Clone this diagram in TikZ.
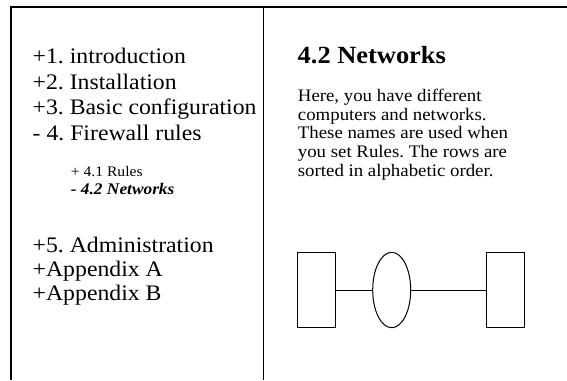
\documentclass[tikz,border=0pt]{standalone}
\usepackage{fontspec}
\setmainfont{Liberation Serif}[FakeStretch=1.07]
\usetikzlibrary{shapes.geometric}

\tikzset{
  frame/.style={line width=1.2pt, draw=black},
  txt/.style={anchor=base west, inner sep=0pt},
  toc/.style={txt, font=\fontsize{22.2}{25}\selectfont},
  subtoc/.style={txt, font=\fontsize{14.6}{17}\selectfont},
  subtoccur/.style={txt, font=\fontsize{16.2}{17}\selectfont\bfseries\itshape},
  heading/.style={txt, font=\fontsize{24.7}{28}\selectfont\bfseries},
  bodyline/.style={txt, font=\fontsize{17.6}{19}\selectfont},
  hostbox/.style={draw, line width=1pt, rectangle, minimum width=38pt, minimum height=75.4pt, inner sep=0pt},
  netblob/.style={draw, line width=1pt, ellipse, minimum width=38pt, minimum height=75.4pt, inner sep=0pt},
  link/.style={line width=1pt},
}

\begin{document}
\frenchspacing
\begin{tikzpicture}[x=1pt, y=-1pt]
  \useasboundingbox (0,0) rectangle (567,380);

  % page frame and column divider
  \draw[frame] (11,380) -- (11,7) -- (567,7);
  \draw[frame] (263.5,7) -- (263.5,380);

  % table of contents
  \node[toc] (t1) at (32.5,63.3) {+1. introduction};
  \node[toc] (t2) at (32.5,89) {+2. Installation};
  \node[toc] (t3) at (32.5,114.7) {+3. Basic configuration};
  \node[toc] (t4) at (32.5,140.3) {- 4. Firewall rules};
  \node[subtoc] (t41) at (70.7,176.7) {+ 4.1 Rules};
  \node[subtoccur] (t42) at (70.7,194) {- 4.2 Networks};
  \node[toc] (t5) at (32.5,252.3) {+5. Administration};
  \node[toc] (ta) at (32.5,276.7) {+Appendix A};
  \node[toc] (tb) at (32.5,300.5) {+Appendix B};

  % section content
  \node[heading] (h) at (297.5,63.3) {4.2 Networks};
  \node[bodyline] (b1) at (297.7,101.5) {Here, you have different};
  \node[bodyline] (b2) at (297.7,120.2) {computers and networks.};
  \node[bodyline] (b3) at (297.7,138.9) {These names are used when};
  \node[bodyline] (b4) at (297.7,157.6) {you set Rules. The rows are};
  \node[bodyline] (b5) at (297.7,176.3) {sorted in alphabetic order.};

  % network sketch
  \node[hostbox] (hostA) at (316.3,290) {};
  \node[netblob] (net) at (391.7,290) {};
  \node[hostbox] (hostB) at (505.3,290) {};
  \draw[link] (hostA.east) -- (net.west);
  \draw[link] (net.east) -- (hostB.west);
\end{tikzpicture}
\end{document}
